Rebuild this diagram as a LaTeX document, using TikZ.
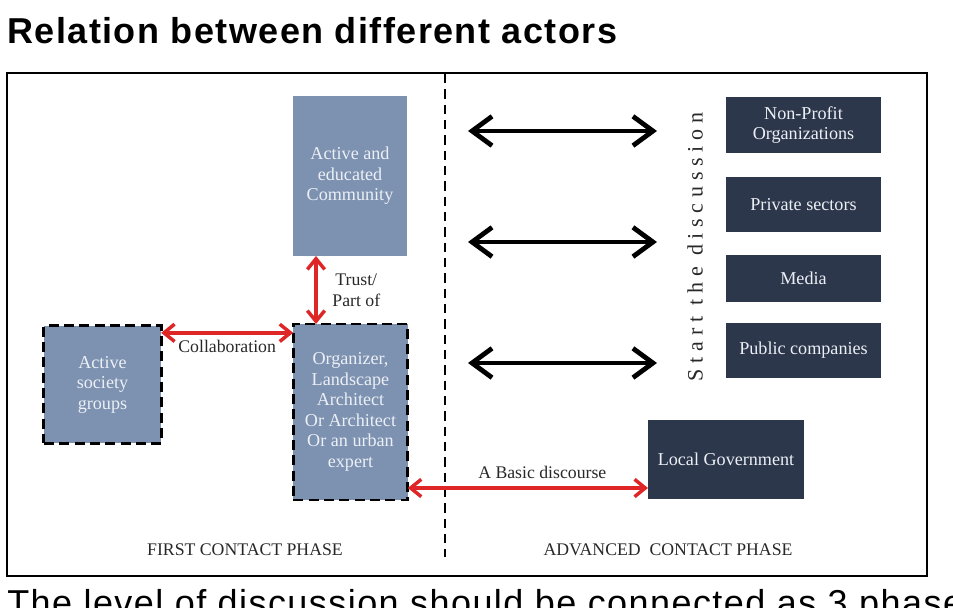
\documentclass[tikz,border=0pt]{standalone}
\usepackage{fontspec}
\setmainfont{Liberation Serif}
\newfontfamily\headfont[LetterSpace=4]{Liberation Sans}
\newfontfamily\spacedfont[LetterSpace=26]{Liberation Serif}
\usepackage{xcolor}
\usepackage{tikz}
\usetikzlibrary{arrows.meta}

\definecolor{steel}{RGB}{125,145,176}
\definecolor{navy}{RGB}{45,55,75}
\definecolor{linkred}{RGB}{222,38,38}
\definecolor{paletext}{RGB}{236,240,246}
\definecolor{inktext}{RGB}{40,40,40}

\begin{document}
\begin{tikzpicture}[x=0.75pt, y=-0.75pt,
    actor/.style={rectangle, fill=steel, text=paletext, align=center, inner sep=0pt, outer sep=0pt, font=\fontsize{13.6}{15.4}\selectfont},
    group/.style={actor, draw=black, line width=2.2pt, dash pattern=on 7.5pt off 4pt},
    sector/.style={actor, fill=navy, minimum width=116pt},
    link/.style={{Straight Barb[length=8pt,width=13pt]}-{Straight Barb[length=8pt,width=13pt]}, linkred, line width=2.6pt},
    talk/.style={{Straight Barb[length=15pt,width=22pt]}-{Straight Barb[length=15pt,width=22pt]}, black, line width=3.6pt},
    caption/.style={font=\fontsize{13.3}{15.4}\selectfont, text=inktext, inner sep=1pt}
]
    \useasboundingbox (0,0) rectangle (953,607);

    % Heading and frame
    \node[anchor=west, inner sep=0pt, font=\headfont\fontsize{27}{30}\selectfont\bfseries] (title) at (7,31) {Relation between different actors};
    \draw[line width=1.6pt] (7,73) rectangle (927,576);
    \node[anchor=north west, inner sep=0pt, font=\headfont\fontsize{27}{30}\selectfont] (remark) at (7,589) {The level of discussion should be connected as 3 phases};

    % Phase divider
    \coordinate (divtop) at (445,74);
    \coordinate (divbot) at (445,557);
    \draw[line width=2.2pt, dash pattern=on 7pt off 4.5pt] (divtop) -- (divbot);

    % First contact phase
    \node[actor, minimum width=85.5pt, minimum height=120pt] (community) at (350,176) {Active and\\educated\\Community};
    \node[group, minimum width=86pt, minimum height=132pt] (organizer) at (350.5,412) {Organizer,\\Landscape\\Architect\\Or Architect\\Or an urban\\expert};
    \node[group, minimum width=88pt, minimum height=88pt] (society) at (102.5,384.5) {Active\\society\\groups};

    % Advanced contact phase
    \node[sector, minimum height=42pt] (nonprofit) at (803.5,125) {Non-Profit\\Organizations};
    \node[sector, minimum height=41pt] (private) at (803.5,204.5) {Private sectors};
    \node[sector, minimum height=35pt] (media) at (803.5,278.5) {Media};
    \node[sector, minimum height=41pt] (public) at (803.5,350.5) {Public companies};
    \node[sector, minimum width=117pt, minimum height=59pt] (localgov) at (726,459.5) {Local Government};
    \node[rotate=90, text=inktext, font=\spacedfont\fontsize{16.5}{18}\selectfont] (start) at (695,247) {Start the discussion};

    % Red links
    \coordinate (collab) at ([yshift=-5.25pt]society.north east);
    \draw[link] (collab) -- node[caption, below, yshift=-3.5pt] {Collaboration} (collab -| organizer.west);
    \coordinate (trust) at ([xshift=-25.5pt]community.south);
    \draw[link] (trust) -- node[caption, right, xshift=10pt, align=center] {Trust/\\Part of} (trust |- organizer.north);
    \coordinate (basic) at ([yshift=-57pt]organizer.east);
    \draw[link] (basic) -- node[caption, above, pos=0.56, yshift=4.5pt] {A Basic discourse} (basic -| localgov.west);

    % Black arrows
    \foreach \y [count=\i] in {131,242,363} {
        \coordinate (talkl\i) at (468,\y);
        \coordinate (talkr\i) at (657,\y);
        \draw[talk] (talkl\i) -- (talkr\i);
    }

    % Phase captions
    \node[caption] (first) at (245,550) {FIRST CONTACT PHASE};
    \node[caption] (advanced) at (668,550) {ADVANCED\ \ CONTACT PHASE};
\end{tikzpicture}
\end{document}
